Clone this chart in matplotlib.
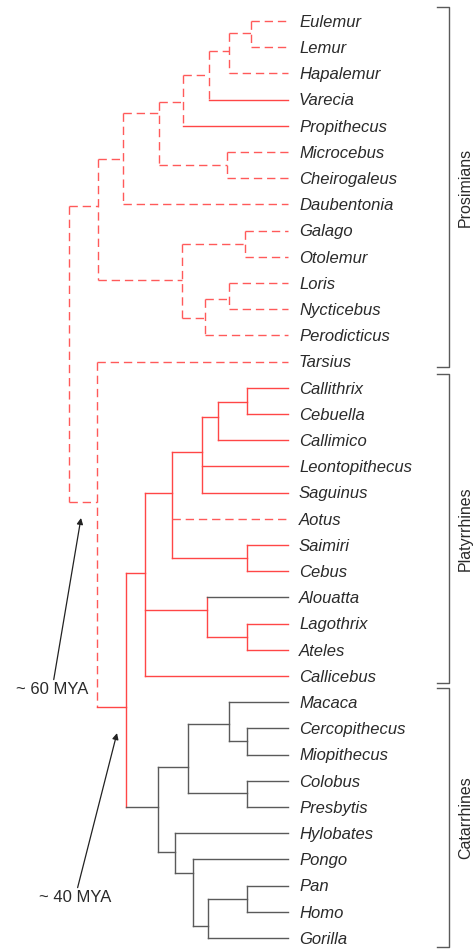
import matplotlib.pyplot as plt

# taxa (top to bottom) and the style of each terminal branch
taxa = ['Eulemur', 'Lemur', 'Hapalemur', 'Varecia', 'Propithecus', 'Microcebus',
        'Cheirogaleus', 'Daubentonia', 'Galago', 'Otolemur', 'Loris', 'Nycticebus',
        'Perodicticus', 'Tarsius', 'Callithrix', 'Cebuella', 'Callimico',
        'Leontopithecus', 'Saguinus', 'Aotus', 'Saimiri', 'Cebus', 'Alouatta',
        'Lagothrix', 'Ateles', 'Callicebus', 'Macaca', 'Cercopithecus',
        'Miopithecus', 'Colobus', 'Presbytis', 'Hylobates', 'Pongo', 'Pan',
        'Homo', 'Gorilla']
tip_style = ['dash', 'dash', 'dash', 'red', 'red', 'dash', 'dash', 'dash', 'dash',
             'dash', 'dash', 'dash', 'dash', 'dash',
             'red', 'red', 'red', 'red', 'red', 'dash', 'red', 'red', 'gray',
             'red', 'red', 'red',
             'gray', 'gray', 'gray', 'gray', 'gray', 'gray', 'gray', 'gray',
             'gray', 'gray']
tip_depth = 288

# internal nodes: name, children, depth, row where the stem joins, style
node_names = ['EuLe', 'EuLeHa', 'lemurid', 'indri', 'MiCh', 'lemuroid', 'lemuriform',
              'GaOt', 'LoNy', 'lorisid', 'lorisiform', 'strep',
              'CaCe', 'CaCeCa', 'callitrich', 'SaCe', 'cebid', 'LaAt', 'atelid', 'platy',
              'CeMi', 'cercopithecine', 'CoPr', 'cercopithecid', 'PaHo', 'afrape',
              'hominid', 'hominoid', 'catarrhine', 'anthropoid', 'haplorhine', 'root']
node_children = [
    ['Eulemur', 'Lemur'], ['EuLe', 'Hapalemur'], ['EuLeHa', 'Varecia'],
    ['lemurid', 'Propithecus'], ['Microcebus', 'Cheirogaleus'], ['indri', 'MiCh'],
    ['lemuroid', 'Daubentonia'], ['Galago', 'Otolemur'], ['Loris', 'Nycticebus'],
    ['LoNy', 'Perodicticus'], ['GaOt', 'lorisid'], ['lemuriform', 'lorisiform'],
    ['Callithrix', 'Cebuella'], ['CaCe', 'Callimico'],
    ['CaCeCa', 'Leontopithecus', 'Saguinus'], ['Saimiri', 'Cebus'],
    ['callitrich', 'Aotus', 'SaCe'], ['Lagothrix', 'Ateles'], ['Alouatta', 'LaAt'],
    ['cebid', 'atelid', 'Callicebus'],
    ['Cercopithecus', 'Miopithecus'], ['Macaca', 'CeMi'], ['Colobus', 'Presbytis'],
    ['cercopithecine', 'CoPr'], ['Pan', 'Homo'], ['PaHo', 'Gorilla'],
    ['Pongo', 'afrape'], ['Hylobates', 'hominid'], ['cercopithecid', 'hominoid'],
    ['platy', 'catarrhine'], ['Tarsius', 'anthropoid'], ['strep', 'haplorhine']]
node_depth = [251, 229, 209, 183, 227, 159, 123, 245, 229, 205, 182, 98,
              247, 218, 202, 247, 172, 247, 207, 145,
              247, 229, 247, 188, 247, 208, 193, 175, 158, 126, 97, 69]
node_row = [0.46, 1.15, 2.06, 3.09, 5.5, 3.51, 5.27, 8.5, 10.6, 11.34, 9.89, 7.06,
            14.54, 15.11, 16.45, 20.5, 18.0, 23.5, 22.48, 21.07,
            27.48, 26.83, 29.47, 28.47, 33.5, 34.54, 32.52, 31.72, 30.0, 26.2, 18.36, 7.06]
node_style = ['dash'] * 12 + ['red'] * 8 + ['gray'] * 9 + ['red', 'dash', 'dash']

groups = ['Prosimians', 'Platyrrhines', 'Catarrhines']
group_span = [(-0.53, 13.2), (13.47, 25.27), (25.46, 35.35)]

RED = '#ff4646'
GRAY = '#5a5a5a'
styles = {'dash': dict(color='#ff5a5a', lw=1.0, ls=(0, (6, 3.5))),
          'red': dict(color=RED, lw=1.0, ls='-'),
          'gray': dict(color=GRAY, lw=1.0, ls='-')}

depth = {t: tip_depth for t in taxa}
row = {t: i for i, t in enumerate(taxa)}
style = dict(zip(taxa, tip_style))
depth.update(zip(node_names, node_depth))
row.update(zip(node_names, node_row))
style.update(zip(node_names, node_style))

fig = plt.figure(figsize=(4.74, 9.49), dpi=100)
ax = fig.add_axes([0, 0, 1, 1])
ax.set_xlim(0, 474)
ax.set_ylim(35.42, -0.80)
ax.axis('off')

for name, kids in zip(node_names, node_children):
    ys = [row[k] for k in kids]
    ax.plot([depth[name], depth[name]], [min(ys), max(ys)], **styles[style[name]])
    for k in kids:
        ax.plot([depth[name], depth[k]], [row[k], row[k]], **styles[style[k]])

for i, t in enumerate(taxa):
    ax.text(tip_depth + 11, i + 0.05, t, fontsize=12, style='italic',
            family='Liberation Sans', color='#2a2a2a', va='center', ha='left')

# group brackets (labels pushed against the right edge)
for g, (y0, y1) in zip(groups, group_span):
    ax.plot([437, 449, 449, 437], [y0, y0, y1, y1], color=GRAY, lw=1.0)
    ax.text(473, (y0 + y1) / 2, g, rotation=90, fontsize=11.5, family='Liberation Sans',
            color='#2a2a2a', ha='right', va='center')

# divergence time arrows
arrow = dict(arrowstyle='-|>', color='#222222', lw=0.9, mutation_scale=9,
             shrinkA=0, shrinkB=0)
ax.annotate('~ 60 MYA', xy=(81, 18.97), xytext=(52, 25.53), fontsize=12,
            family='Liberation Sans', color='#2a2a2a', ha='center', va='center',
            arrowprops=arrow)
ax.annotate('~ 40 MYA', xy=(117, 27.18), xytext=(75, 33.47), fontsize=12,
            family='Liberation Sans', color='#2a2a2a', ha='center', va='center',
            arrowprops=arrow)

fig.savefig('out.png', dpi=100)
